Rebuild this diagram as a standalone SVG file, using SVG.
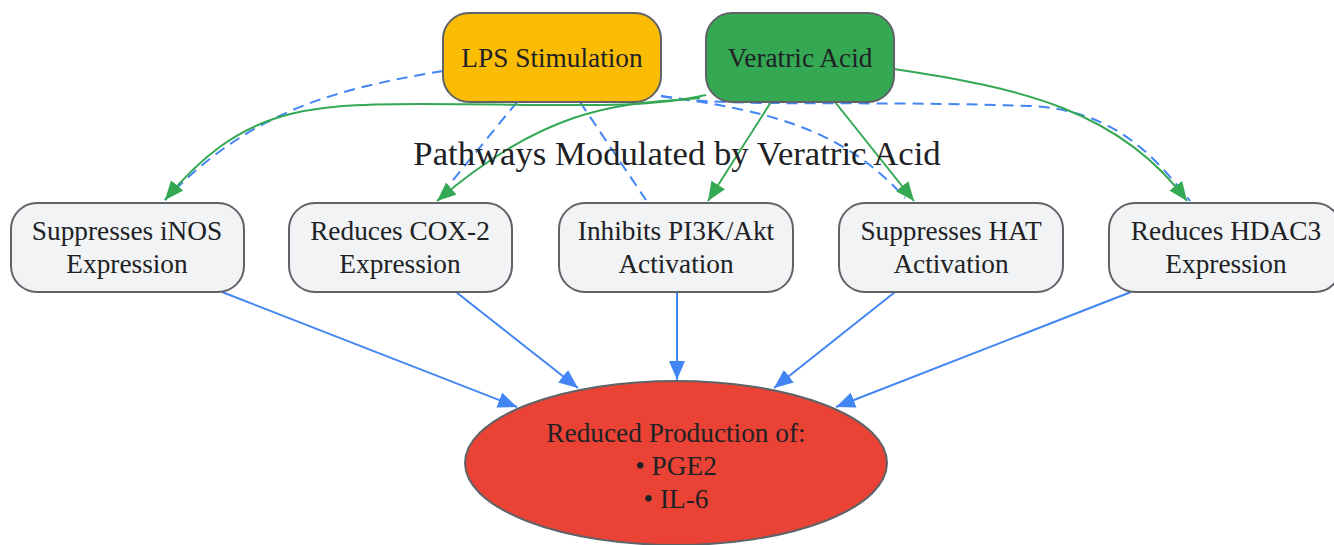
<svg xmlns="http://www.w3.org/2000/svg" width="1334" height="545" viewBox="0 0 1334 545">
<style>
text{font-family:"Liberation Serif","Times New Roman",serif;fill:#202124;}
.n text{font-size:27.3px;text-anchor:middle;}
.box{stroke:#5f6368;stroke-width:2;}
.mid{fill:#f1f3f4;}
.dash{fill:none;stroke:#4285f4;stroke-width:2;stroke-dasharray:11,7;}
.g{fill:none;stroke:#34a853;stroke-width:2;marker-end:url(#ag);}
.b{fill:none;stroke:#4285f4;stroke-width:2;marker-end:url(#ab);}
</style>
<defs>
<marker id="ag" markerUnits="userSpaceOnUse" markerWidth="20" markerHeight="16" refX="19" refY="8" orient="auto"><path d="M0,0 L19,8 L0,16 z" fill="#34a853"/></marker>
<marker id="ab" markerUnits="userSpaceOnUse" markerWidth="20" markerHeight="16" refX="19" refY="8" orient="auto"><path d="M0,0 L19,8 L0,16 z" fill="#4285f4"/></marker>
</defs>
<rect width="1334" height="545" fill="#ffffff"/>
<g id="connectors">
<path class="dash" d="M443,71 C340,88 250,110 165,200"/>
<path class="dash" d="M517,102 L440,196"/>
<path class="dash" d="M580,102 L646,200"/>
<path class="dash" d="M661,96 C760,110 840,125 905,198"/>
<path class="dash" d="M661,96 C720,108 860,100 1030,106 C1110,110 1150,150 1190,201"/>
<path class="g" d="M706,95 C640,110 560,104 420,104 C300,104 240,110 165,200"/>
<path class="g" d="M700,98 C640,105 560,95 437,201"/>
<path class="g" d="M771,102 L708,201"/>
<path class="g" d="M835,102 L914,201"/>
<path class="g" d="M894,69 C1020,88 1120,110 1187,201"/>
<path class="b" d="M222,292 L517,407"/>
<path class="b" d="M456,292 L578,388"/>
<path class="b" d="M677,292 L677,380"/>
<path class="b" d="M895,292 L774,388"/>
<path class="b" d="M1131,292 L836,407"/>
</g>
<g id="lps" class="n"><rect class="box" x="443" y="13" width="218" height="89" rx="26" fill="#fbbc04"/><text x="552" y="67">LPS Stimulation</text></g>
<g id="veratric" class="n"><rect class="box" x="706" y="13" width="188" height="89" rx="26" fill="#34a853"/><text x="800" y="67">Veratric Acid</text></g>
<g id="inos" class="n"><rect class="box mid" x="11" y="203" width="233" height="89" rx="26"/><text x="127" y="240">Suppresses iNOS</text><text x="127" y="273">Expression</text></g>
<g id="cox2" class="n"><rect class="box mid" x="289" y="203" width="223" height="89" rx="26"/><text x="400" y="240">Reduces COX-2</text><text x="400" y="273">Expression</text></g>
<g id="pi3k" class="n"><rect class="box mid" x="559" y="203" width="234" height="89" rx="26"/><text x="676" y="240">Inhibits PI3K/Akt</text><text x="676" y="273">Activation</text></g>
<g id="hat" class="n"><rect class="box mid" x="839" y="203" width="224" height="89" rx="26"/><text x="951" y="240">Suppresses HAT</text><text x="951" y="273">Activation</text></g>
<g id="hdac3" class="n"><rect class="box mid" x="1109" y="203" width="232" height="89" rx="26"/><text x="1226" y="240">Reduces HDAC3</text><text x="1226" y="273">Expression</text></g>
<g id="result" class="n"><ellipse class="box" cx="676" cy="463" rx="211" ry="82" fill="#ea4335"/><text x="676" y="442">Reduced Production of:</text><text x="676" y="475">• PGE2</text><text x="676" y="508">• IL-6</text></g>
<text x="677" y="165" font-size="34.7" text-anchor="middle" fill="#000">Pathways Modulated by Veratric Acid</text>
</svg>
